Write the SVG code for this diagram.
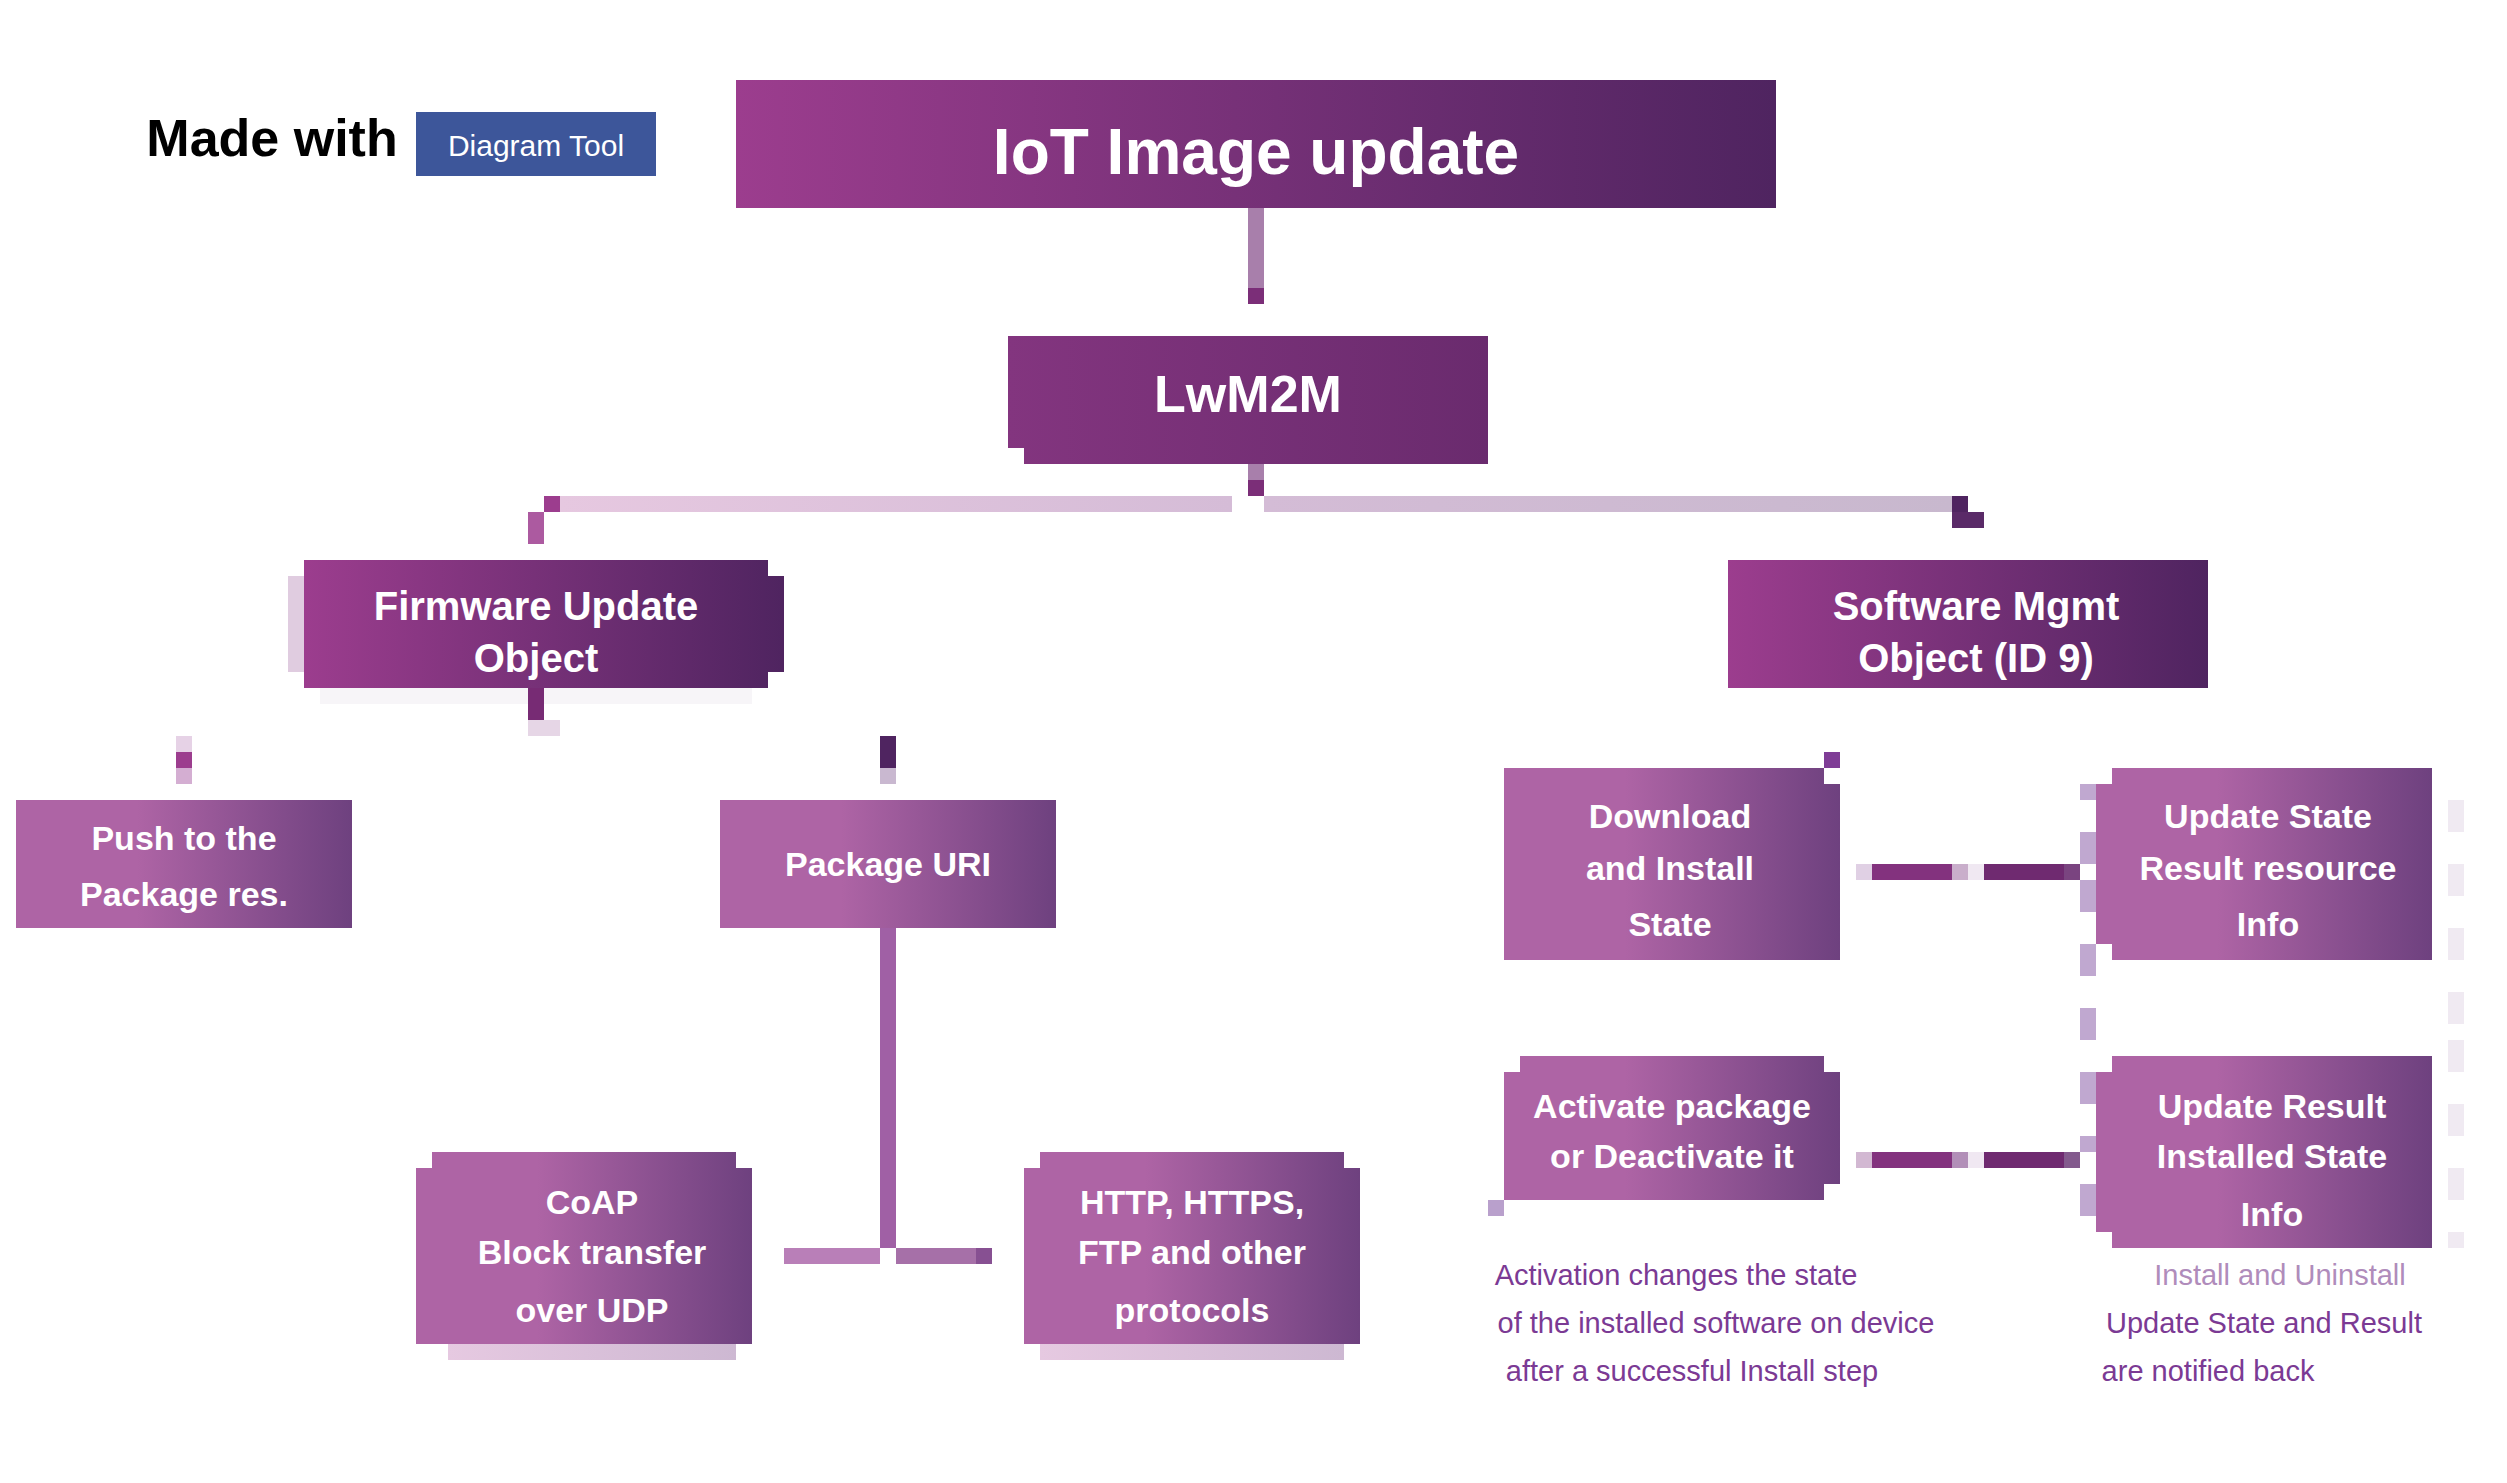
<svg xmlns="http://www.w3.org/2000/svg" width="2507" height="1483" viewBox="0 0 2507 1483">
<!-- Reference labels are pixelated and illegible: all label wording here is a best-guess reading fitted to line count and width. -->
<defs>
<linearGradient id="gDark" x1="0" x2="1" y1="0" y2="0"><stop offset="0" stop-color="#9c3d8e"/><stop offset="1" stop-color="#4f2460"/></linearGradient>
<linearGradient id="gLevel" x1="0" x2="1" y1="0" y2="0"><stop offset="0" stop-color="#83357f"/><stop offset="1" stop-color="#6a2b6e"/></linearGradient>
<linearGradient id="gMid" x1="0" x2="1" y1="0" y2="0"><stop offset="0" stop-color="#ae64a5"/><stop offset="0.36" stop-color="#ae64a5"/><stop offset="1" stop-color="#6e417f"/></linearGradient>
<linearGradient id="gShadow" x1="0" x2="1" y1="0" y2="0"><stop offset="0" stop-color="#e6c9e1"/><stop offset="1" stop-color="#cdb8d2"/></linearGradient>
<linearGradient id="gLineL" gradientUnits="userSpaceOnUse" x1="560" x2="1232" y1="0" y2="0"><stop offset="0" stop-color="#e6c8e0"/><stop offset="1" stop-color="#d5bcd7"/></linearGradient>
<linearGradient id="gLineR" gradientUnits="userSpaceOnUse" x1="1264" x2="1952" y1="0" y2="0"><stop offset="0" stop-color="#d4bcd6"/><stop offset="1" stop-color="#c8b8ce"/></linearGradient>
</defs>
<style>
text{font-family:"Liberation Sans",Arial,sans-serif;text-anchor:middle}
.lbl{fill:#fff;font-weight:700}
.t1{font-size:64px}.t2{font-size:52px}.t3{font-size:40px}.t4{font-size:34px}
.cap{fill:#7b3a94;font-size:29px}
.cap2{fill:#b08cbb}
.cn{fill:none;stroke-width:16}
.trim{stroke:none}
</style>
<rect width="2507" height="1483" fill="#fff"/>

<g id="logo">
<text x="272" y="156" font-size="52" font-weight="700" fill="#000">Made with</text>
<rect x="416" y="112" width="240" height="64" fill="#3d569a"/>
<text x="536" y="156" font-size="30" font-weight="400" fill="#fff">Diagram Tool</text>
</g>

<g id="node-title">
<rect x="736" y="80" width="1040" height="128" fill="url(#gDark)"/>
<text class="lbl t1" x="1256" y="174">IoT Image update</text>
</g>

<g id="node-protocol">
<path d="M1008 336H1488V464H1024V448H1008Z" fill="url(#gLevel)"/>
<text class="lbl t2" x="1248" y="412">LwM2M</text>
</g>

<g id="node-firmware">
<rect class="trim" x="288" y="576" width="16" height="96" fill="#e0cce0"/>
<rect class="trim" x="320" y="688" width="432" height="16" fill="#f7f5f8"/>
<path d="M304 560H768V576H784V672H768V688H304Z" fill="url(#gDark)"/>
<text class="lbl t3" x="536" y="620">Firmware Update</text>
<text class="lbl t3" x="536" y="672">Object</text>
</g>

<g id="node-software">
<rect x="1728" y="560" width="480" height="128" fill="url(#gDark)"/>
<text class="lbl t3" x="1976" y="620">Software Mgmt</text>
<text class="lbl t3" x="1976" y="672">Object (ID 9)</text>
</g>

<g id="node-push">
<rect x="16" y="800" width="336" height="128" fill="url(#gMid)"/>
<text class="lbl t4" x="184" y="850">Push to the</text>
<text class="lbl t4" x="184" y="906">Package res.</text>
</g>

<g id="node-pull">
<rect x="720" y="800" width="336" height="128" fill="url(#gMid)"/>
<text class="lbl t4" x="888" y="876">Package URI</text>
</g>

<g id="node-coap">
<rect class="trim" x="448" y="1344" width="288" height="16" fill="url(#gShadow)"/>
<path d="M432 1152H736V1168H752V1344H416V1168H432Z" fill="url(#gMid)"/>
<text class="lbl t4" x="592" y="1214">CoAP</text>
<text class="lbl t4" x="592" y="1264">Block transfer</text>
<text class="lbl t4" x="592" y="1322">over UDP</text>
</g>

<g id="node-http">
<rect class="trim" x="1040" y="1344" width="304" height="16" fill="url(#gShadow)"/>
<path d="M1040 1152H1344V1168H1360V1344H1024V1168H1040Z" fill="url(#gMid)"/>
<text class="lbl t4" x="1192" y="1214">HTTP, HTTPS,</text>
<text class="lbl t4" x="1192" y="1264">FTP and other</text>
<text class="lbl t4" x="1192" y="1322">protocols</text>
</g>

<g id="node-install">
<path d="M1504 768H1824V784H1840V960H1504Z" fill="url(#gMid)"/>
<text class="lbl t4" x="1670" y="828">Download</text>
<text class="lbl t4" x="1670" y="880">and Install</text>
<text class="lbl t4" x="1670" y="936">State</text>
</g>

<g id="node-state">
<path d="M2112 768H2432V960H2112V944H2096V784H2112Z" fill="url(#gMid)"/>
<text class="lbl t4" x="2268" y="828">Update State</text>
<text class="lbl t4" x="2268" y="880">Result resource</text>
<text class="lbl t4" x="2268" y="936">Info</text>
</g>

<g id="node-activate">
<path d="M1520 1056H1824V1072H1840V1184H1824V1200H1504V1072H1520Z" fill="url(#gMid)"/>
<text class="lbl t4" x="1672" y="1118">Activate package</text>
<text class="lbl t4" x="1672" y="1168">or Deactivate it</text>
</g>

<g id="node-result">
<path d="M2112 1056H2432V1248H2112V1232H2096V1072H2112Z" fill="url(#gMid)"/>
<text class="lbl t4" x="2272" y="1118">Update Result</text>
<text class="lbl t4" x="2272" y="1168">Installed State</text>
<text class="lbl t4" x="2272" y="1226">Info</text>
</g>

<g id="caption-left">
<text class="cap" x="1676" y="1285">Activation changes the state</text>
<text class="cap" x="1716" y="1333">of the installed software on device</text>
<text class="cap" x="1692" y="1381">after a successful Install step</text>
</g>

<g id="caption-right">
<text class="cap cap2" x="2280" y="1285">Install and Uninstall</text>
<text class="cap" x="2264" y="1333">Update State and Result</text>
<text class="cap" x="2208" y="1381">are notified back</text>
</g>

<g id="connectors">
<path class="cn" stroke="#a87fab" d="M1256 208V288"/>
<path class="cn" stroke="#7b2e78" d="M1256 288V304"/>
<path class="cn" stroke="#a87fab" d="M1256 464V480"/>
<path class="cn" stroke="#7b2e78" d="M1256 480V496"/>
<path class="cn" stroke="url(#gLineL)" d="M560 504H1232"/>
<path class="cn" stroke="url(#gLineR)" d="M1264 504H1952"/>
<path class="cn" stroke="#9c3d8e" d="M560 504H544"/>
<path class="cn" stroke="#ac5aa0" d="M536 512V544"/>
<path class="cn" stroke="#4f2460" d="M1960 496V512"/>
<path class="cn" stroke="#5a2a68" d="M1952 520H1984"/>
<path class="cn" stroke="#772b74" d="M536 688V720"/>
<path class="cn" stroke="#e6d6e6" d="M528 728H560"/>
<path class="cn" stroke="#e6d2e6" d="M184 736V752"/>
<path class="cn" stroke="#9c3d8e" d="M184 752V768"/>
<path class="cn" stroke="#d4aed2" d="M184 768V784"/>
<path class="cn" stroke="#4f2460" d="M888 736V768"/>
<path class="cn" stroke="#c9b8d0" d="M888 768V784"/>
<path class="cn" stroke="#a060a5" d="M888 928V1248"/>
<path class="cn" stroke="#b97fb8" d="M784 1256H880"/>
<path class="cn" stroke="#a670a8" d="M896 1256H976"/>
<path class="cn" stroke="#875092" d="M976 1256H992"/>
<path class="cn" stroke="#e0d0e4" d="M1856 872H1872"/>
<path class="cn" stroke="#83327e" d="M1872 872H1952"/>
<path class="cn" stroke="#c9aecb" d="M1952 872H1968"/>
<path class="cn" stroke="#f0e8f2" d="M1968 872H1984"/>
<path class="cn" stroke="#6f2a70" d="M1984 872H2064"/>
<path class="cn" stroke="#7a4480" d="M2064 872H2080"/>
<path class="cn" stroke="#d2b8d2" d="M1856 1160H1872"/>
<path class="cn" stroke="#83327e" d="M1872 1160H1952"/>
<path class="cn" stroke="#b28fb8" d="M1952 1160H1968"/>
<path class="cn" stroke="#f0e8f2" d="M1968 1160H1984"/>
<path class="cn" stroke="#6f2a70" d="M1984 1160H2064"/>
<path class="cn" stroke="#835a8d" d="M2064 1160H2080"/>
<path class="cn" stroke="#c0a8d0" d="M2088 784V800M2088 832V864M2088 880V912M2088 944V976M2088 1008V1040M2088 1072V1104M2088 1136V1152M2088 1184V1216"/>
<path class="cn" stroke="#f0eaf2" d="M2456 800V832M2456 864V896M2456 928V960M2456 992V1024M2456 1040V1072M2456 1104V1136M2456 1168V1200M2456 1232V1248"/>
<path class="cn" stroke="#7f3d96" d="M1832 752V768"/>
<path class="cn" stroke="#b9a0cc" d="M1496 1200V1216"/>
</g>
</svg>
